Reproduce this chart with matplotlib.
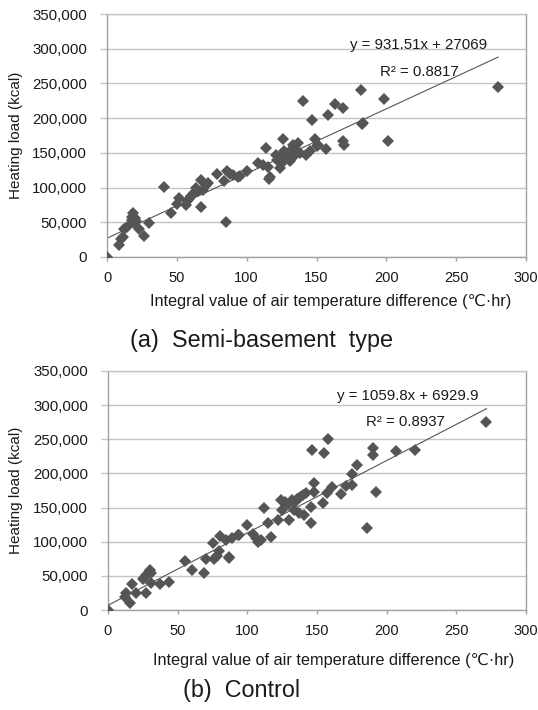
import matplotlib
matplotlib.use("Agg")
import matplotlib.pyplot as plt
import numpy as np
from matplotlib.ticker import FuncFormatter, MultipleLocator

plt.rcParams["font.family"] = ["Liberation Sans", "DejaVu Sans", "Noto Sans CJK JP"]

# (a) Semi-basement type
semi_x = [0, 8.8, 9.8, 11.7, 12, 14, 17.6, 18.8, 18, 20, 21, 19.5, 23, 26.4, 30,
          41, 46, 50, 51.7, 56.4, 57.5, 59, 60, 64, 67.6, 67.6, 68.8, 71, 72,
          79, 84, 85.5, 86, 88, 90, 94, 95, 100, 108, 112, 113.6, 115, 116, 116.5,
          121, 122, 123.6, 126, 126, 127, 129.5, 132, 133, 135.5, 136.6, 140,
          142.6, 145, 147, 149, 150, 151, 157, 158, 163.6, 169, 169, 170, 182,
          182.6, 183.6, 198, 201, 280, 125, 128, 131, 134, 138, 130, 62, 65]
semi_y = [0, 17300, 26000, 29000, 41000, 43000, 53000, 64000, 58000, 56000,
          52000, 48500, 41000, 30700, 48500, 101000, 64000, 76000, 84500, 75000,
          80000, 83000, 88000, 100000, 111000, 71600, 96500, 104000, 106000,
          120000, 110000, 51000, 124000, 120000, 118000, 115000, 116000, 124000,
          135000, 132500, 156500, 129000, 112000, 115000, 147000, 140000, 128000,
          169500, 149000, 152000, 147000, 154000, 161000, 152000, 164000, 225000,
          147000, 152000, 197000, 169500, 160000, 161000, 155000, 204500, 220000,
          214000, 167000, 161000, 240000, 191500, 193500, 227000, 167000, 244500,
          135000, 142000, 138000, 145000, 150000, 143000, 92000, 95000]
semi_slope, semi_icept, semi_r2 = 931.51, 27069, 0.8817

# (b) Control
ctrl_x = [0, 12.9, 12, 15.7, 17, 20, 25, 26, 27.6, 30, 31, 27, 31, 37, 43.8,
          55, 60.5, 69, 70, 75, 76.4, 78, 79.5, 80.5, 86.6, 84.8, 89, 93, 87,
          94, 100, 104, 106, 108, 110, 117, 112, 114.5, 121.7, 124, 125, 130, 132,
          133.6, 136, 138, 140, 142, 137, 140.7, 145.5, 145.5, 146.7, 148, 155,
          158, 154, 157, 161, 167, 170.5, 175, 175, 179, 186, 190, 190, 192,
          206.7, 220.5, 271.6, 127, 129, 135, 148]
ctrl_y = [0, 24500, 19500, 10700, 38000, 25400, 45000, 47000, 51000, 58500,
          54600, 25400, 39000, 38000, 41500, 71800, 58600, 53700, 74200, 98600,
          74000, 79000, 87000, 108000, 75700, 102500, 105000, 110000, 78000,
          110000, 124500, 112000, 106000, 100000, 103000, 107000, 149000, 127000,
          132000, 161000, 146500, 132000, 161000, 146500, 163000, 165000, 168000,
          171000, 141600, 139000, 127000, 151000, 234000, 185500, 229500, 250000,
          156000, 171000, 180500, 170000, 181600, 183000, 199000, 212000, 119600,
          236800, 227000, 173000, 233000, 234000, 275800, 158000, 155000, 160000,
          173000]
ctrl_slope, ctrl_icept, ctrl_r2 = 1059.8, 6929.9, 0.8937

MARK = "#555555"
GRID = "#c4c4c4"
EDGE = "#a0a0a0"
TEXT = "#1a1a1a"


def draw_panel(ax, xs, ys, slope, icept, r2, eq_xy, r2_xy, xlabel_xy, ylabel_x):
    ax.set_xlim(0, 300)
    ax.set_ylim(0, 350000)
    ax.xaxis.set_major_locator(MultipleLocator(50))
    ax.yaxis.set_major_locator(MultipleLocator(50000))
    ax.yaxis.set_major_formatter(FuncFormatter(lambda v, _: f"{int(v):,}"))
    ax.grid(axis="y", color=GRID, linewidth=1.0)
    ax.set_axisbelow(True)
    for sp in ax.spines.values():
        sp.set_color(EDGE)
        sp.set_linewidth(1.0)
    ax.spines["top"].set_color(GRID)
    ax.tick_params(axis="y", length=5, width=1.0, color=GRID, pad=9.5,
                   labelsize=10.8, labelcolor=TEXT)
    ax.tick_params(axis="x", length=3, width=1.0, color=EDGE, pad=7,
                   labelsize=10.5, labelcolor=TEXT)

    fit_x = np.array([0, max(xs)])
    ax.plot(fit_x, slope * fit_x + icept, color="#555555", linewidth=0.8, zorder=2)
    ax.plot(xs, ys, linestyle="none", marker="D", markersize=5.8,
            color=MARK, markeredgewidth=0, zorder=3)

    ax.text(*eq_xy, f"y = {slope}x + {icept}", transform=ax.transAxes,
            fontsize=10.8, color=TEXT, ha="left", va="center")
    ax.text(*r2_xy, f"R² = {r2}", transform=ax.transAxes, fontsize=10.8,
            color=TEXT, ha="left", va="center")
    ax.set_ylabel("Heating load (kcal)", fontsize=11, color=TEXT)
    ax.yaxis.set_label_coords(ylabel_x, 0.5)
    ax.set_xlabel("Integral value of air temperature difference (℃·hr)",
                  fontsize=11.7, color=TEXT, va="center")
    ax.xaxis.set_label_coords(*xlabel_xy)


fig = plt.figure(figsize=(5.38, 7.10), dpi=100)
ax1 = fig.add_axes([107 / 538, 1 - 257 / 710, 419 / 538, 243 / 710])
ax2 = fig.add_axes([108 / 538, 1 - 610 / 710, 418 / 538, 239 / 710])

draw_panel(ax1, semi_x, semi_y, semi_slope, semi_icept, semi_r2,
           (0.580, 0.872), (0.652, 0.761), (0.533, -0.185), -0.200)
draw_panel(ax2, ctrl_x, ctrl_y, ctrl_slope, ctrl_icept, ctrl_r2,
           (0.547, 0.895), (0.618, 0.787), (0.539, -0.213), -0.203)

fig.text(130 / 538, 1 - 340 / 710, "(a)  Semi-basement  type", fontsize=16.8,
         color=TEXT, ha="left", va="center")
fig.text(183 / 538, 1 - 690 / 710, "(b)  Control", fontsize=16.8, color=TEXT,
         ha="left", va="center")

fig.savefig("out.png", dpi=100)
